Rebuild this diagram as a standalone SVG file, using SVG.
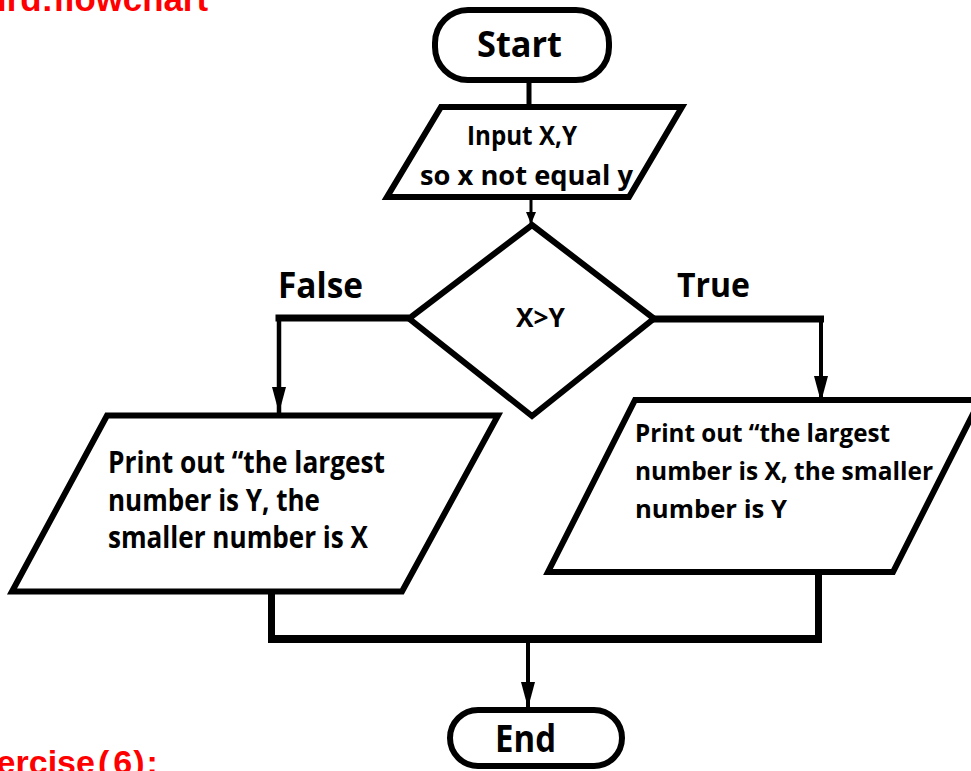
<svg xmlns="http://www.w3.org/2000/svg" width="971" height="771" viewBox="0 0 971 771">
<style>
.shape{fill:#fff;stroke:#000;stroke-width:6;stroke-linejoin:miter}
.t{font-family:"Open Sans","Liberation Sans",sans-serif;font-weight:700;fill:#000}
.red{font-family:"Liberation Sans",Arial,sans-serif;font-weight:700;fill:#FF0000}
.ln{fill:none;stroke:#000;stroke-linecap:butt}
</style>
<defs>
<marker id="ah" viewBox="0 0 26 14" markerWidth="26" markerHeight="14" refX="26" refY="7" orient="auto" markerUnits="userSpaceOnUse"><path d="M0,0 L26,7 L0,14 z" fill="#000"/></marker>
<marker id="ahs" viewBox="0 0 12 10" markerWidth="12" markerHeight="10" refX="12" refY="5" orient="auto" markerUnits="userSpaceOnUse"><path d="M0,0 L12,5 L0,10 z" fill="#000"/></marker>
</defs>
<rect width="971" height="771" fill="#fff"/>

<text class="red" x="-3" y="11" font-size="35" textLength="211" lengthAdjust="spacingAndGlyphs">ird:flowchart</text>
<text class="red" x="-45" y="774" font-size="34">Exercise<tspan dx="3">(</tspan><tspan dx="4">6</tspan><tspan dx="1">)</tspan><tspan dx="2">:</tspan></text>

<g id="connectors">
<path class="ln" stroke-width="5" d="M529,80 V107"/>
<path class="ln" stroke-width="3" d="M531,197 V224" marker-end="url(#ahs)"/>
<path class="ln" stroke-width="7" d="M409,318 H275.5"/>
<path class="ln" stroke-width="4.5" d="M279,318 V413" marker-end="url(#ah)"/>
<path class="ln" stroke-width="7" d="M653,319 H824"/>
<path class="ln" stroke-width="4" d="M821,319 V402" marker-end="url(#ah)"/>
<path class="ln" stroke-width="7" d="M271.5,592 V643"/>
<path class="ln" stroke-width="7" d="M818.5,572 V643"/>
<path class="ln" stroke-width="8" d="M268,639 H822"/>
<path class="ln" stroke-width="4" d="M528,643 V708" marker-end="url(#ah)"/>
</g>

<text class="t" x="278" y="298" font-size="35" textLength="85" lengthAdjust="spacingAndGlyphs">False</text>
<text class="t" x="677" y="297" font-size="34" textLength="73" lengthAdjust="spacingAndGlyphs">True</text>

<g id="start">
<rect class="shape" x="435" y="10" width="174" height="70" rx="33"/>
<text class="t" x="477" y="57" font-size="35" textLength="85" lengthAdjust="spacingAndGlyphs">Start</text>
</g>

<g id="input">
<polygon class="shape" points="441,107 682,107 629,197 387,197"/>
<text class="t" x="467" y="145" font-size="26" textLength="110" lengthAdjust="spacingAndGlyphs">Input X,Y</text>
<text class="t" x="420" y="185" font-size="26" textLength="213" lengthAdjust="spacingAndGlyphs">so x not equal y</text>
</g>

<g id="decision">
<polygon class="shape" points="532,225 654,318.5 532,416 409,318.5"/>
<text class="t" x="516" y="327" font-size="26" textLength="49" lengthAdjust="spacingAndGlyphs">X&gt;Y</text>
</g>

<g id="print-false">
<polygon class="shape" points="107,415.5 498,415.5 402,591.5 12,591.5"/>
<text class="t" x="108" y="473" font-size="29.5" textLength="277" lengthAdjust="spacingAndGlyphs">Print out “the largest</text>
<text class="t" x="108" y="511" font-size="29.5" textLength="212" lengthAdjust="spacingAndGlyphs">number is Y, the</text>
<text class="t" x="108" y="548" font-size="29.5" textLength="260" lengthAdjust="spacingAndGlyphs">smaller number is X</text>
</g>

<g id="print-true">
<polygon class="shape" points="635,400 980,400 893,572 548,572"/>
<text class="t" x="635" y="442" font-size="25.5" textLength="255" lengthAdjust="spacingAndGlyphs">Print out “the largest</text>
<text class="t" x="635" y="480" font-size="25.5" textLength="298" lengthAdjust="spacingAndGlyphs">number is X, the smaller</text>
<text class="t" x="635" y="518" font-size="25.5" textLength="152" lengthAdjust="spacingAndGlyphs">number is Y</text>
</g>

<g id="end">
<rect class="shape" x="450" y="710" width="172" height="56" rx="28"/>
<text class="t" x="495" y="752" font-size="37" textLength="61" lengthAdjust="spacingAndGlyphs">End</text>
</g>
</svg>
